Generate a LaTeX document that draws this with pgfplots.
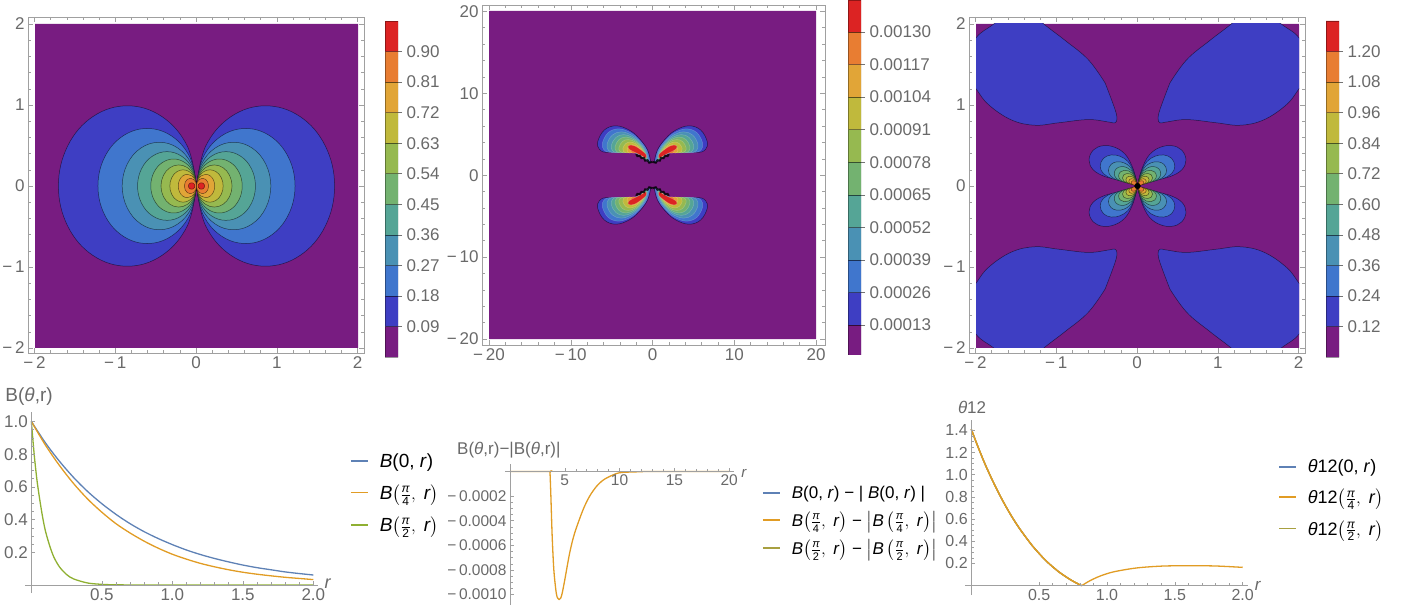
\documentclass[border=0pt]{standalone}
\usepackage{pgfplots}
\usepackage{pgfplotstable}
\usepackage{fontspec}
\usepackage{amsmath}
\setmainfont{Liberation Sans}
\pgfplotsset{compat=1.18}
\definecolor{c0}{RGB}{120,28,129}
\definecolor{c1}{RGB}{62,62,195}
\definecolor{c2}{RGB}{64,118,205}
\definecolor{c3}{RGB}{74,145,180}
\definecolor{c4}{RGB}{85,165,150}
\definecolor{c5}{RGB}{115,178,112}
\definecolor{c6}{RGB}{150,185,80}
\definecolor{c7}{RGB}{192,185,60}
\definecolor{c8}{RGB}{225,165,55}
\definecolor{c9}{RGB}{232,125,50}
\definecolor{c10}{RGB}{220,35,35}
\definecolor{lblue}{HTML}{5E81B5}
\definecolor{lorange}{HTML}{E19C24}
\definecolor{lgreen}{HTML}{8FB032}
\definecolor{lolive}{HTML}{A8A040}
\definecolor{tickgray}{RGB}{105,105,105}
\definecolor{framegray}{RGB}{160,160,160}
% Panel 1: contour lobes
\pgfplotstableread[row sep=\\]{x y\\0 0\\.115 .495\\.428 .857\\.855 .99\\1.283 .857\\1.595 .495\\1.71 0\\1.595 -.495\\1.283 -.857\\.855 -.99\\.428 -.857\\.115 -.495\\0 0\\}\pa
\pgfplotstableread[row sep=\\]{x y\\0 0\\.082 .355\\.305 .615\\.61 .71\\.915 .615\\1.138 .355\\1.22 0\\1.138 -.355\\.915 -.615\\.61 -.71\\.305 -.615\\.082 -.355\\0 0\\}\pb
\pgfplotstableread[row sep=\\]{x y\\0 0\\.062 .27\\.23 .468\\.46 .54\\.69 .468\\.858 .27\\.92 0\\.858 -.27\\.69 -.468\\.46 -.54\\.23 -.468\\.062 -.27\\0 0\\}\pc
\pgfplotstableread[row sep=\\]{x y\\0 0\\.049 .212\\.183 .367\\.365 .424\\.548 .367\\.681 .212\\.73 0\\.681 -.212\\.548 -.367\\.365 -.424\\.183 -.367\\.049 -.212\\0 0\\}\pd
\pgfplotstableread[row sep=\\]{x y\\0 0\\.038 .167\\.142 .288\\.283 .333\\.425 .288\\.528 .167\\.566 0\\.528 -.167\\.425 -.288\\.283 -.333\\.142 -.288\\.038 -.167\\0 0\\}\pe
\pgfplotstableread[row sep=\\]{x y\\0 0\\.029 .13\\.11 .225\\.22 .26\\.33 .225\\.41 .13\\.44 0\\.41 -.13\\.33 -.225\\.22 -.26\\.11 -.225\\.029 -.13\\0 0\\}\pf
\pgfplotstableread[row sep=\\]{x y\\0 0\\.022 .1\\.083 .173\\.165 .2\\.248 .173\\.308 .1\\.33 0\\.308 -.1\\.248 -.173\\.165 -.2\\.083 -.173\\.022 -.1\\0 0\\}\pg
\pgfplotstableread[row sep=\\]{x y\\0 0\\.015 .072\\.057 .125\\.113 .144\\.17 .125\\.211 .072\\.226 0\\.211 -.072\\.17 -.125\\.113 -.144\\.057 -.125\\.015 -.072\\0 0\\}\ph
\pgfplotstableread[row sep=\\]{x y\\0 0\\.01 .048\\.038 .082\\.075 .095\\.113 .082\\.14 .048\\.15 0\\.14 -.048\\.113 -.082\\.075 -.095\\.038 -.082\\.01 -.048\\0 0\\}\pi
\pgfplotstableread[row sep=\\]{x y\\0.02 0\\.025 .02\\.04 .035\\.06 .04\\.08 .035\\.095 .02\\.1 0\\.095 -.02\\.08 -.035\\.06 -.04\\.04 -.035\\.025 -.02\\0.02 0\\}\pj
% Panel 2
\pgfplotstableread[row sep=\\]{x y\\.2 1.5\\.6 3.05\\1.63 4.47\\2.85 5.48\\4.47 6.0\\5.9 5.48\\6.7 4.06\\6.5 3.13\\5.7 2.76\\4.07 2.84\\2.64 2.84\\1.63 2.44\\.6 1.62\\.2 1.5\\}\qa
\pgfplotstableread[row sep=\\]{x y\\.34 1.63\\.70 3.01\\1.62 4.27\\2.70 5.17\\4.14 5.63\\5.42 5.17\\6.13 3.90\\5.95 3.08\\5.24 2.75\\3.79 2.82\\2.51 2.82\\1.62 2.46\\.70 1.73\\.34 1.63\\}\qb
\pgfplotstableread[row sep=\\]{x y\\.49 1.75\\.80 2.96\\1.60 4.07\\2.55 4.86\\3.82 5.26\\4.93 4.86\\5.56 3.75\\5.40 3.02\\4.78 2.74\\3.50 2.80\\2.39 2.80\\1.60 2.49\\.80 1.85\\.49 1.75\\}\qc
\pgfplotstableread[row sep=\\]{x y\\.62 1.87\\.89 2.92\\1.59 3.89\\2.42 4.57\\3.52 4.93\\4.49 4.57\\5.04 3.61\\4.90 2.98\\4.36 2.72\\3.25 2.78\\2.28 2.78\\1.59 2.51\\.89 1.95\\.62 1.87\\}\qd
\pgfplotstableread[row sep=\\]{x y\\.73 1.97\\.97 2.89\\1.58 3.72\\2.30 4.32\\3.25 4.63\\4.10 4.32\\4.57 3.48\\4.45 2.93\\3.98 2.71\\3.02 2.76\\2.17 2.76\\1.58 2.53\\.97 2.04\\.73 1.97\\}\qe
\pgfplotstableread[row sep=\\]{x y\\.85 2.07\\1.05 2.85\\1.57 3.56\\2.18 4.07\\2.99 4.33\\3.70 4.07\\4.10 3.36\\4.00 2.89\\3.60 2.71\\2.79 2.75\\2.07 2.75\\1.57 2.54\\1.05 2.13\\.85 2.07\\}\qf
\pgfplotstableread[row sep=\\]{x y\\.97 2.18\\1.13 2.81\\1.55 3.40\\2.05 3.81\\2.72 4.02\\3.30 3.81\\3.63 3.23\\3.55 2.85\\3.22 2.70\\2.55 2.73\\1.97 2.73\\1.55 2.56\\1.13 2.23\\.97 2.18\\}\qg
\pgfplotstableread[row sep=\\]{x y\\1.10 2.29\\1.22 2.77\\1.54 3.21\\1.92 3.53\\2.42 3.69\\2.86 3.53\\3.11 3.09\\3.05 2.80\\2.80 2.68\\2.30 2.71\\1.85 2.71\\1.54 2.58\\1.22 2.33\\1.10 2.29\\}\qh
\pgfplotstableread[row sep=\\]{x y\\1.21 2.40\\1.30 2.74\\1.53 3.05\\1.80 3.27\\2.15 3.39\\2.47 3.27\\2.64 2.96\\2.60 2.76\\2.42 2.67\\2.07 2.69\\1.75 2.69\\1.53 2.60\\1.30 2.42\\1.21 2.40\\}\qi
\pgfplotstableread[row sep=\\]{x y\\.8 2.05\\1.7 2.55\\2.85 3.15\\2.9 3.6\\2.2 3.55\\1.35 3.0\\.75 2.45\\.8 2.05\\}\qj
\pgfplotstableread[row sep=\\]{x y\\0 1.6\\.4 1.5\\.6 1.8\\.9 1.75\\1.05 2.1\\1.35 2.05\\1.55 2.35\\1.85 2.3\\2.0 2.55\\}\qk
% Panel 3
\pgfplotstableread[row sep=\\]{x y\\.40 1.27\\.61 1.56\\.90 1.80\\1.16 2.0\\1.45 2.25\\1.78 2.0\\2.0 1.83\\2.2 1.5\\2.0 1.2\\1.84 1.0\\1.56 .815\\1.27 .75\\.98 .78\\.61 .82\\.36 .79\\.28 .78\\.255 .83\\.28 .95\\.40 1.27\\}\rz
\pgfplotstableread[row sep=\\]{x y\\0 0\\.025 .115\\.074 .26\\.156 .395\\.28 .477\\.424 .498\\.547 .444\\.60 .32\\.547 .198\\.40 .115\\.218 .074\\.074 .033\\0 0\\}\ra
\pgfplotstableread[row sep=\\]{x y\\0 0\\.019 .089\\.057 .2\\.12 .304\\.216 .367\\.326 .383\\.421 .342\\.462 .246\\.421 .152\\.308 .089\\.168 .057\\.057 .025\\0 0\\}\rb
\pgfplotstableread[row sep=\\]{x y\\0 0\\.015 .069\\.044 .156\\.094 .237\\.168 .286\\.254 .299\\.328 .266\\.36 .192\\.328 .119\\.24 .069\\.131 .044\\.044 .02\\0 0\\}\rc
\pgfplotstableread[row sep=\\]{x y\\0 0\\.012 .055\\.036 .125\\.075 .19\\.134 .229\\.204 .239\\.263 .213\\.288 .154\\.263 .095\\.192 .055\\.105 .036\\.036 .016\\0 0\\}\rd
\pgfplotstableread[row sep=\\]{x y\\0 0\\.01 .045\\.029 .101\\.061 .154\\.109 .186\\.165 .194\\.213 .173\\.234 .125\\.213 .077\\.156 .045\\.085 .029\\.029 .013\\0 0\\}\re
\pgfplotstableread[row sep=\\]{x y\\0 0\\.008 .036\\.023 .081\\.048 .122\\.087 .148\\.131 .154\\.17 .138\\.186 .099\\.17 .061\\.124 .036\\.068 .023\\.023 .01\\0 0\\}\rf
\pgfplotstableread[row sep=\\]{x y\\0 0\\.006 .028\\.018 .062\\.037 .095\\.067 .114\\.102 .12\\.131 .107\\.144 .077\\.131 .048\\.096 .028\\.052 .018\\.018 .008\\0 0\\}\rg
\pgfplotstableread[row sep=\\]{x y\\0 0\\.005 .021\\.013 .047\\.028 .071\\.05 .086\\.076 .09\\.098 .08\\.108 .058\\.098 .036\\.072 .021\\.039 .013\\.013 .006\\0 0\\}\rh
\pgfplotstableread[row sep=\\]{x y\\0 0\\.003 .015\\.01 .034\\.02 .051\\.036 .062\\.055 .065\\.071 .058\\.078 .042\\.071 .026\\.052 .015\\.028 .01\\.01 .004\\0 0\\}\ri
\pgfplotstableread[row sep=\\]{x y\\.035 0\\.025 .025\\0 .035\\-.025 .025\\-.035 0\\-.025 -.025\\0 -.035\\.025 -.025\\.035 0\\}\rk
% Line curves
\pgfplotstableread[row sep=\\]{r v\\0 1\\.1 .869\\.2 .756\\.3 .657\\.4 .571\\.5 .497\\.6 .432\\.7 .375\\.8 .326\\.9 .284\\1 .247\\1.1 .214\\1.2 .186\\1.3 .162\\1.4 .141\\1.5 .122\\1.6 .106\\1.7 .093\\1.8 .08\\1.9 .07\\2 .061\\}\Ba
\pgfplotstableread[row sep=\\]{r v\\0 1\\.1 .855\\.2 .73\\.3 .62\\.4 .525\\.5 .445\\.6 .375\\.7 .318\\.8 .268\\.9 .225\\1 .188\\1.1 .158\\1.2 .132\\1.3 .111\\1.4 .093\\1.5 .078\\1.6 .066\\1.7 .056\\1.8 .047\\1.9 .04\\2 .033\\}\Bb
\pgfplotstableread[row sep=\\]{r v\\0 1\\.02 .8\\.04 .64\\.06 .52\\.08 .415\\.1 .33\\.13 .24\\.16 .17\\.2 .11\\.25 .064\\.3 .037\\.4 .012\\.5 .004\\.6 .001\\.8 0\\1 0\\2 0\\}\Bc
\pgfplotstableread[row sep=\\]{r v\\0 0\\3.6 0\\3.65 -.00001\\3.73 -.0002\\3.85 -.00053\\4.0 -.0008\\4.18 -.00096\\4.3 -.00102\\4.48 -.00104\\4.62 -.00103\\4.76 -.00099\\5 -.00088\\5.45 -.00066\\5.9 -.0005\\6.67 -.00031\\7.27 -.0002\\7.9 -.00012\\8.5 -.00007\\9.1 -.00004\\10 -.00001\\11.5 -.000003\\13 0\\20 0\\}\Da
\pgfplotstableread[row sep=\\]{r v\\0 1.41\\.05 1.25\\.1 1.10\\.15 .965\\.2 .84\\.25 .725\\.3 .62\\.35 .525\\.4 .44\\.45 .36\\.5 .29\\.55 .225\\.6 .17\\.65 .12\\.7 .078\\.75 .04\\.813 0\\}\Ta
\pgfplotstableread[row sep=\\]{r v\\.813 0\\.875 .045\\.95 .087\\1.05 .125\\1.22 .16\\1.415 .177\\1.636 .18\\1.81 .177\\2 .165\\}\Tb
\tikzset{lobe/.style={draw=black,draw opacity=.55,line width=.5pt,smooth,tension=.65},
         lobel/.style={draw=white,draw opacity=.2,line width=.5pt,smooth,tension=.65}}
\newcommand\lobeLR[2]{%
  \addplot[lobe,fill=#1] table[x=x,y=y] {#2};
  \addplot[lobe,fill=#1] table[x expr=-\thisrow{x},y=y] {#2};}
\newcommand\lobeQ[2]{%
  \addplot[lobe,fill=#1] table[x=x,y=y] {#2};
  \addplot[lobe,fill=#1] table[x expr=-\thisrow{x},y=y] {#2};
  \addplot[lobe,fill=#1] table[x=x,y expr=-\thisrow{y}] {#2};
  \addplot[lobe,fill=#1] table[x expr=-\thisrow{x},y expr=-\thisrow{y}] {#2};}
\newcommand\lobeQL[2]{%
  \addplot[lobel,fill=#1] table[x=x,y=y] {#2};
  \addplot[lobel,fill=#1] table[x expr=-\thisrow{x},y=y] {#2};
  \addplot[lobel,fill=#1] table[x=x,y expr=-\thisrow{y}] {#2};
  \addplot[lobel,fill=#1] table[x expr=-\thisrow{x},y expr=-\thisrow{y}] {#2};}
\newcommand\jag[1]{%
  \addplot[black,line width=2pt,opacity=.8] table[x=x,y=y] {#1};
  \addplot[black,line width=2pt,opacity=.8] table[x expr=-\thisrow{x},y=y] {#1};
  \addplot[black,line width=2pt,opacity=.8] table[x=x,y expr=-\thisrow{y}] {#1};
  \addplot[black,line width=2pt,opacity=.8] table[x expr=-\thisrow{x},y expr=-\thisrow{y}] {#1};}
\newcommand\seg[3]{\addplot[draw=black,draw opacity=.35,line width=.5pt,fill=#1] coordinates {(0,#2)(1,#2)(1,#3)(0,#3)(0,#2)};}
\pgfplotsset{
  inner/.style={scale only axis,hide axis,enlargelimits=false,clip=true},
  frameax/.style={scale only axis,axis line style={framegray,line width=.7pt},
    tick style={framegray,line width=.5pt},tick align=inside,major tick length=5pt,minor tick length=3pt,
    minor tick num=4,xtick pos=both,ytick pos=both,
    xticklabel pos=bottom,yticklabel pos=left,
    tick label style={font=\fontsize{17}{20}\selectfont,text=tickgray}},
  cbar/.style={scale only axis,width=13pt,xmin=0,xmax=1,axis x line=none,axis y line*=right,
    y axis line style={draw=none},tick style={black!55,line width=.5pt},tick align=outside,major tick length=4pt,
    scaled y ticks=false,clip=true,
    tick label style={font=\fontsize{17}{20}\selectfont,text=tickgray},yticklabel style={xshift=1pt}},
  mma/.style={scale only axis,axis lines=middle,axis line style={-,framegray,line width=.7pt},axis on top,
    tick style={framegray,line width=.5pt},tick align=inside,major tick length=4pt,minor tick length=2.5pt,
    scaled y ticks=false,scaled x ticks=false,clip=false,
    legend cell align=left,
    legend image post style={line width=1.6pt},
    tick label style={text=tickgray}},
  curve/.style={line width=1.3pt,no marks},
  legsty/.style={legend style={draw=none,fill=none,inner sep=0pt,/tikz/column 1/.style={column sep=#1}}},
}
\newcommand\fr[2]{\frac{\mbox{\fontsize{12}{12}\selectfont\textit{#1}}}{\mbox{\fontsize{12}{12}\selectfont #2}}}
\newcommand\frs[2]{\frac{\mbox{\fontsize{11}{11}\selectfont\textit{#1}}}{\mbox{\fontsize{11}{11}\selectfont #2}}}
\begin{document}
\begin{tikzpicture}[x=1pt,y=1pt]
\path[use as bounding box] (0,0) rectangle (1411,614);
%%% Panel 1
\begin{axis}[inner,at={(35pt,266pt)},anchor=south west,width=323pt,height=324pt,xmin=-2,xmax=2,ymin=-2,ymax=2]
\addplot[draw=none,fill=c0] coordinates {(-2,-2)(2,-2)(2,2)(-2,2)(-2,-2)};
\lobeLR{c1}{\pa}\lobeLR{c2}{\pb}\lobeLR{c3}{\pc}\lobeLR{c4}{\pd}\lobeLR{c5}{\pe}
\lobeLR{c6}{\pf}\lobeLR{c7}{\pg}\lobeLR{c8}{\ph}\lobeLR{c9}{\pi}\lobeLR{c10}{\pj}
\end{axis}
\begin{axis}[frameax,at={(28pt,261pt)},anchor=south west,width=336pt,height=336pt,
  xmin=-2.08,xmax=2.08,ymin=-2.062,ymax=2.086,
  xtick={-2,-1,0,1,2},ytick={-2,-1,0,1,2},
  xticklabels={−\,2,−\,1,0,1,2},yticklabels={−\,2,−\,1,0,1,2}]
\end{axis}
\begin{axis}[cbar,at={(385pt,257pt)},anchor=south west,height=336pt,ymin=0,ymax=.99,
  ytick={.09,.18,.27,.36,.45,.54,.63,.72,.81,.90},
  yticklabels={0.09,0.18,0.27,0.36,0.45,0.54,0.63,0.72,0.81,0.90}]
\seg{c0}{0}{.09}\seg{c1}{.09}{.18}\seg{c2}{.18}{.27}\seg{c3}{.27}{.36}\seg{c4}{.36}{.45}\seg{c5}{.45}{.54}
\seg{c6}{.54}{.63}\seg{c7}{.63}{.72}\seg{c8}{.72}{.81}\seg{c9}{.81}{.90}\seg{c10}{.90}{.99}
\end{axis}
%%% Panel 2
\begin{axis}[inner,at={(489pt,275pt)},anchor=south west,width=327pt,height=328pt,xmin=-20,xmax=20,ymin=-20,ymax=20]
\addplot[draw=none,fill=c0] coordinates {(-20,-20)(20,-20)(20,20)(-20,20)(-20,-20)};
\lobeQ{c1}{\qa}\lobeQL{c2}{\qb}\lobeQL{c3}{\qc}\lobeQL{c4}{\qd}\lobeQL{c5}{\qe}
\lobeQL{c6}{\qf}\lobeQL{c7}{\qg}\lobeQL{c8}{\qh}\lobeQL{c9}{\qi}\lobeQL{c10}{\qj}
\jag{\qk}
\end{axis}
\begin{axis}[frameax,at={(482pt,269pt)},anchor=south west,width=343pt,height=340pt,
  xmin=-20.86,xmax=21.1,ymin=-20.73,ymax=20.77,
  xtick={-20,-10,0,10,20},ytick={-20,-10,0,10,20},
  xticklabels={−\,20,−\,10,0,10,20},yticklabels={−\,20,−\,10,0,10,20}]
\end{axis}
\begin{axis}[cbar,at={(848pt,259pt)},anchor=south west,height=355pt,ymin=0.00001,ymax=0.001428,
  ytick={.00013,.00026,.00039,.00052,.00065,.00078,.00091,.00104,.00117,.0013},
  yticklabels={0.00013,0.00026,0.00039,0.00052,0.00065,0.00078,0.00091,0.00104,0.00117,0.00130}]
\seg{c0}{.00001}{.00013}\seg{c1}{.00013}{.00026}\seg{c2}{.00026}{.00039}\seg{c3}{.00039}{.00052}\seg{c4}{.00052}{.00065}\seg{c5}{.00065}{.00078}
\seg{c6}{.00078}{.00091}\seg{c7}{.00091}{.00104}\seg{c8}{.00104}{.00117}\seg{c9}{.00117}{.0013}\seg{c10}{.0013}{.001428}
\end{axis}
%%% Panel 3
\begin{axis}[inner,at={(976pt,266pt)},anchor=south west,width=323pt,height=324pt,xmin=-2,xmax=2,ymin=-2,ymax=2]
\addplot[draw=none,fill=c0] coordinates {(-2,-2)(2,-2)(2,2)(-2,2)(-2,-2)};
\lobeQ{c1}{\rz}
\lobeQ{c1}{\ra}\lobeQ{c2}{\rb}\lobeQ{c3}{\rc}\lobeQ{c4}{\rd}\lobeQ{c5}{\re}
\lobeQ{c6}{\rf}\lobeQ{c7}{\rg}\lobeQ{c8}{\rh}\lobeQ{c9}{\ri}
\addplot[fill=black,draw=black] table[x=x,y=y] {\rk};
\end{axis}
\begin{axis}[frameax,at={(969pt,261pt)},anchor=south west,width=336pt,height=336pt,
  xmin=-2.08,xmax=2.08,ymin=-2.062,ymax=2.086,
  xtick={-2,-1,0,1,2},ytick={-2,-1,0,1,2},
  xticklabels={−\,2,−\,1,0,1,2},yticklabels={−\,2,−\,1,0,1,2}]
\end{axis}
\begin{axis}[cbar,at={(1326pt,257pt)},anchor=south west,height=336pt,ymin=0,ymax=1.32,
  ytick={.12,.24,.36,.48,.60,.72,.84,.96,1.08,1.20},
  yticklabels={0.12,0.24,0.36,0.48,0.60,0.72,0.84,0.96,1.08,1.20}]
\seg{c0}{0}{.12}\seg{c1}{.12}{.24}\seg{c2}{.24}{.36}\seg{c3}{.36}{.48}\seg{c4}{.48}{.60}\seg{c5}{.60}{.72}
\seg{c6}{.72}{.84}\seg{c7}{.84}{.96}\seg{c8}{.96}{1.08}\seg{c9}{1.08}{1.20}\seg{c10}{1.20}{1.32}
\end{axis}
%%% Plot 1
\begin{axis}[mma,legsty=9pt,at={(25pt,21pt)},anchor=south west,width=293pt,height=180.7pt,
  xmin=-.045,xmax=2.033,ymin=-.049,ymax=1.056,
  xtick={.5,1,1.5,2},ytick={.2,.4,.6,.8,1},minor x tick num=4,minor y tick num=3,
  xticklabels={0.5,1.0,1.5,2.0},yticklabels={0.2,0.4,0.6,0.8,1.0},
  xticklabel style={font=\fontsize{17}{20}\selectfont},yticklabel style={font=\fontsize{17}{20}\selectfont},
  xlabel={\textit{r}},ylabel={B(\textit{θ},r)},
  xlabel style={at={(axis description cs:1.034,.05)},anchor=center,font=\fontsize{18}{20}\selectfont,text=tickgray},
  ylabel style={at={(axis description cs:.014,1.085)},anchor=center,rotate=0,font=\fontsize{19}{20}\selectfont,text=tickgray},
  legend style={at={(axis description cs:1.109,.553)},anchor=west,font=\fontsize{19}{21}\selectfont,row sep=12pt}]
\addplot[curve,lblue,smooth] table[x=r,y=v] {\Ba};
\addlegendentry{\textit{B}(0, \textit{r})}
\addplot[curve,lorange,smooth] table[x=r,y=v] {\Bb};
\addlegendentry{\textit{B}$\left(\fr{π}{4},\mbox{ \textit{r}}\right)$}
\addplot[curve,lgreen,smooth] table[x=r,y=v] {\Bc};
\addlegendentry{\textit{B}$\left(\fr{π}{2},\mbox{ \textit{r}}\right)$}
\end{axis}
%%% Plot 2
\begin{axis}[mma,legsty=9pt,at={(505pt,9pt)},anchor=south west,width=229pt,height=141pt,
  xmin=-.456,xmax=20.44,ymin=-.001085,ymax=.000061,
  xtick={5,10,15,20},ytick={-.001,-.0008,-.0006,-.0004,-.0002},minor x tick num=4,minor y tick num=3,
  xticklabels={5,10,15,20},yticklabels={−\,0.0010,−\,0.0008,−\,0.0006,−\,0.0004,−\,0.0002},
  xticklabel style={font=\fontsize{15.5}{18}\selectfont},yticklabel style={font=\fontsize{15.5}{18}\selectfont},
  xlabel={\textit{r}},ylabel={B(\textit{θ},r)−|B(\textit{θ},r)|},
  xlabel style={at={(axis description cs:1.044,.93)},anchor=center,font=\fontsize{15}{18}\selectfont,text=tickgray},
  ylabel style={at={(axis description cs:.017,1.1)},anchor=center,rotate=0,font=\fontsize{17}{20}\selectfont,text=tickgray},
  legend style={at={(axis description cs:1.122,.596)},anchor=west,font=\fontsize{17}{20}\selectfont,row sep=8pt}]
\addplot[curve,lblue] coordinates {(0,0)(20,0)};
\addlegendentry{\textit{B}(0, \textit{r}) − | \textit{B}(0, \textit{r}) |}
\addplot[curve,lorange,smooth] table[x=r,y=v] {\Da};
\addlegendentry{\textit{B}$\left(\frs{π}{4},\mbox{ \textit{r}}\right)$ − $\left|\mbox{\textit{B}}\left(\frs{π}{4},\mbox{ \textit{r}}\right)\right|$}
\addplot[curve,lolive] coordinates {(0,0)(3.6,0)};
\addlegendentry{\textit{B}$\left(\frs{π}{2},\mbox{ \textit{r}}\right)$ − $\left|\mbox{\textit{B}}\left(\frs{π}{2},\mbox{ \textit{r}}\right)\right|$}
\end{axis}
%%% Plot 3
\begin{axis}[mma,legsty=9pt,at={(965pt,19pt)},anchor=south west,width=283pt,height=175pt,
  xmin=-.046,xmax=2.039,ymin=-.084,ymax=1.493,
  xtick={.5,1,1.5,2},ytick={.2,.4,.6,.8,1,1.2,1.4},minor x tick num=4,minor y tick num=3,
  xticklabels={0.5,1.0,1.5,2.0},yticklabels={0.2,0.4,0.6,0.8,1.0,1.2,1.4},
  xticklabel style={font=\fontsize{16}{19}\selectfont},yticklabel style={font=\fontsize{16}{19}\selectfont},
  xlabel={\textit{r}},ylabel={\textit{θ}12},
  xlabel style={at={(axis description cs:1.035,.05)},anchor=center,font=\fontsize{17}{19}\selectfont,text=tickgray},
  ylabel style={at={(axis description cs:.025,1.074)},anchor=center,rotate=0,font=\fontsize{17}{19}\selectfont,text=tickgray},
  legend style={at={(axis description cs:1.106,.554)},anchor=west,font=\fontsize{18}{20}\selectfont,row sep=11pt}]
\addplot[curve,lblue,smooth] table[x=r,y=v] {\Ta};
\addlegendentry{\textit{θ}12(0, \textit{r})}
\addplot[curve,lorange,smooth] table[x=r,y=v] {\Ta};
\addlegendentry{\textit{θ}12$\left(\fr{π}{4},\mbox{ \textit{r}}\right)$}
\addplot[curve,lolive,smooth] table[x=r,y=v] {\Ta};
\addlegendentry{\textit{θ}12$\left(\fr{π}{2},\mbox{ \textit{r}}\right)$}
\addplot[curve,lorange,smooth,forget plot] table[x=r,y=v] {\Ta};
\addplot[curve,lorange,smooth,forget plot] table[x=r,y=v] {\Tb};
\end{axis}
\end{tikzpicture}
\end{document}
